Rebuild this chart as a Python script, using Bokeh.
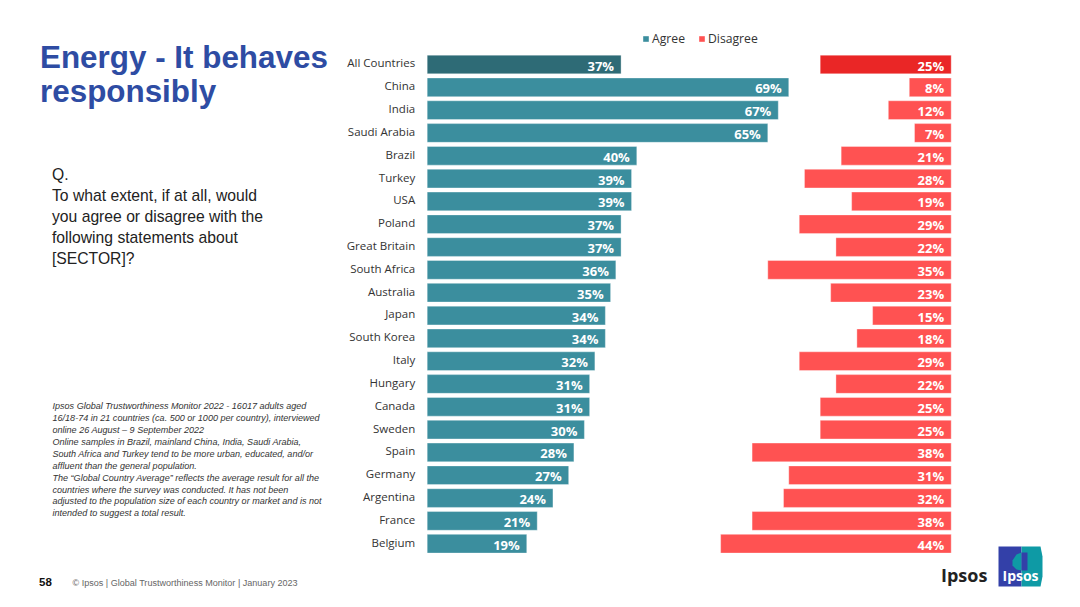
from bokeh.plotting import figure
from bokeh.core.properties import value
from bokeh.models import (ColumnDataSource, FixedTicker, Range1d, Label, BoxAnnotation,
                          PolyAnnotation, Legend, LegendItem)
from bokeh.embed import file_html
from bokeh.resources import INLINE

countries = ["All Countries", "China", "India", "Saudi Arabia", "Brazil", "Turkey", "USA", "Poland",
             "Great Britain", "South Africa", "Australia", "Japan", "South Korea", "Italy", "Hungary",
             "Canada", "Sweden", "Spain", "Germany", "Argentina", "France", "Belgium"]
agree = [37, 69, 67, 65, 40, 39, 39, 37, 37, 36, 35, 34, 34, 32, 31, 31, 30, 28, 27, 24, 21, 19]
disagree = [25, 8, 12, 7, 21, 28, 19, 29, 22, 35, 23, 15, 18, 29, 22, 25, 25, 38, 31, 32, 38, 44]
series_names = ["Agree", "Disagree"]
title_lines = ["Energy - It behaves", "responsibly"]
question_lines = ["Q.", "To what extent, if at all, would", "you agree or disagree with the",
                  "following statements about", "[SECTOR]?"]
note_lines = ["Ipsos Global Trustworthiness Monitor 2022 - 16017 adults aged",
              "16/18-74 in 21 countries (ca. 500 or 1000 per country), interviewed",
              "online 26 August \u2013 9 September 2022",
              "Online samples in Brazil, mainland China, India, Saudi Arabia,",
              "South Africa and Turkey tend to be more urban, educated, and/or",
              "affluent than the general population.",
              "The \u201cGlobal Country Average\u201d reflects the average result for all the",
              "countries where the survey was conducted. It has not been",
              "adjusted to the population size of each country or market and is not",
              "intended to suggest a total result."]
page_number = "58"
footer_text = "\u00a9 Ipsos | Global Trustworthiness Monitor | January 2023"
brand = "Ipsos"

W, H = 1064, 591
AXIS_MAX = 100
TEAL, TEAL_DARK, RED, RED_DARK = "#3B8E9E", "#2E6B76", "#FF5252", "#EA2626"
X0_PX, PX_PER_PCT = 426.7, 5.24
ROW0_PX, ROW_PX = 64.0, 22.82

rows = list(range(len(countries)))
x_range = Range1d(-X0_PX / PX_PER_PCT, (W - X0_PX) / PX_PER_PCT)
y_range = Range1d((H - ROW0_PX) / ROW_PX, -ROW0_PX / ROW_PX)

p = figure(width=W, height=H, output_backend="svg", toolbar_location=None,
           x_range=x_range, y_range=y_range,
           min_border_left=0, min_border_right=0, min_border_top=0, min_border_bottom=0)
p.outline_line_color = None
p.xgrid.visible = False
p.ygrid.visible = False
p.xaxis.visible = False
ax = p.yaxis[0]
ax.fixed_location = 0
tick_rows = [round(r - 0.07, 2) for r in rows]
ax.ticker = FixedTicker(ticks=tick_rows)
ax.major_label_overrides = dict(zip(tick_rows, countries))
ax.axis_line_color = None
ax.major_tick_line_color = None
ax.minor_tick_line_color = None
ax.major_label_text_font = "Open Sans"
ax.major_label_text_font_size = "11.5px"
ax.major_label_text_color = "#333333"
ax.major_label_standoff = 6

src = ColumnDataSource(dict(
    row=rows,
    agree=agree,
    disagree_start=[AXIS_MAX - d for d in disagree],
    right=[AXIS_MAX] * len(countries),
    zero=[0] * len(countries),
    agree_color=[TEAL_DARK] + [TEAL] * (len(countries) - 1),
    disagree_color=[RED_DARK] + [RED] * (len(countries) - 1),
    agree_text=[f"{v}%" for v in agree],
    disagree_text=[f"{v}%" for v in disagree],
))
p.hbar(y="row", left="zero", right="agree", height=0.82, source=src,
       fill_color="agree_color", line_color="#FFFFFF", line_alpha=0.35)
p.hbar(y="row", left="disagree_start", right="right", height=0.82, source=src,
       fill_color="disagree_color", line_color="#FFFFFF", line_alpha=0.35)
for xcol, tcol in (("agree", "agree_text"), ("right", "disagree_text")):
    p.text(x=xcol, y="row", text=tcol, source=src, text_align="right", text_baseline="middle",
           x_offset=-7, y_offset=1, text_color="#FFFFFF", text_font=value("Open Sans"),
           text_font_style="bold", text_font_size="13px")

lg1 = p.hbar(y=[rows[0]], left=[0], right=[0], height=0.0, fill_color=TEAL, line_color=None)
lg2 = p.hbar(y=[rows[0]], left=[0], right=[0], height=0.0, fill_color=RED, line_color=None)
legend = Legend(items=[LegendItem(label=series_names[0], renderers=[lg1]),
                       LegendItem(label=series_names[1], renderers=[lg2])],
                orientation="horizontal", location=(642, H - 47), background_fill_alpha=0,
                border_line_color=None, glyph_width=7, glyph_height=7, label_standoff=3, spacing=13,
                padding=4, margin=0, label_text_font="Open Sans", label_text_font_size="12.2px",
                label_text_color="#333333", label_height=14)
p.add_layout(legend)


def text(x, y, s, size, color="#222222", font="Liberation Sans", style="normal", align="left"):
    p.add_layout(Label(x=x, y=H - y, x_units="screen", y_units="screen", text=s,
                       text_font=font, text_font_size=size, text_color=color, text_font_style=style,
                       text_align=align, text_baseline="middle"))


for line, y in zip(title_lines, (56.5, 90.5)):
    text(39.5, y, line, "31.4px", "#2E4CA3", style="bold")
for line, y in zip(question_lines, (173.5, 194.5, 215.5, 236.5, 257.5)):
    text(51.5, y, line, "15.7px", "#222222")
for i, line in enumerate(note_lines):
    text(52, 405.7 + i * 11.9, line, "9.05px", "#333333", style="italic")
text(38.5, 581, page_number, "11.5px", "#111111", style="bold")
text(72, 582, footer_text, "9.05px", "#666666")

text(940.5, 574, brand, "18px", "#222222", font="Open Sans", style="bold")
LOGO_BLUE, LOGO_TEAL = "#3340A8", "#0E9AA5"
p.add_layout(BoxAnnotation(left=998, right=1021, bottom=H - 586, top=H - 546,
                           left_units="screen", right_units="screen", bottom_units="screen", top_units="screen",
                           fill_color=LOGO_BLUE, fill_alpha=1, line_color=None))
p.add_layout(PolyAnnotation(xs=[1021, 1040, 1042, 1042, 1040, 1021],
                            ys=[H - v for v in (546, 546, 556, 576, 586, 586)],
                            xs_units="screen", ys_units="screen", fill_color=LOGO_TEAL, fill_alpha=1,
                            line_color=None))
p.add_layout(PolyAnnotation(xs=[1021, 1016, 1012, 1012, 1016, 1021],
                            ys=[H - v for v in (552, 554, 560, 565, 569, 570)],
                            xs_units="screen", ys_units="screen", fill_color=LOGO_TEAL, fill_alpha=1,
                            line_color=None))
p.add_layout(PolyAnnotation(xs=[1021, 1027, 1027, 1021],
                            ys=[H - v for v in (552, 552, 570, 570)],
                            xs_units="screen", ys_units="screen", fill_color=LOGO_BLUE, fill_alpha=1,
                            line_color=None))
text(1002, 575, brand, "14px", "#FFFFFF", font="Open Sans", style="bold")

open("out.html", "w").write(file_html(p, INLINE))
